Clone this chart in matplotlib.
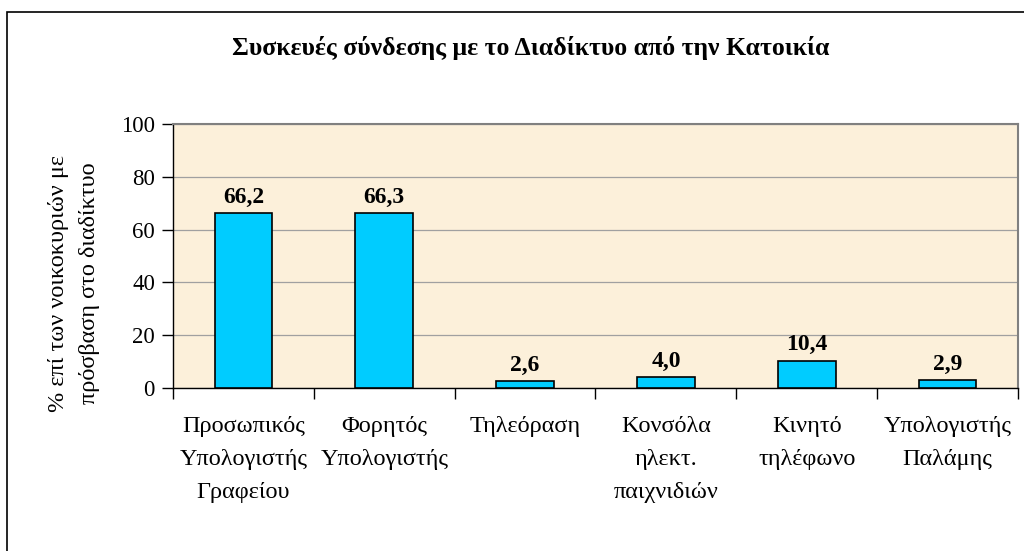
import numpy as np
import matplotlib.pyplot as plt
from matplotlib.patches import Rectangle

plt.rcParams['font.family'] = ['Liberation Serif', 'DejaVu Serif']

# data
categories = ['Προσωπικός\nΥπολογιστής\nΓραφείου', 'Φορητός\nΥπολογιστής',
              'Τηλεόραση', 'Κονσόλα\nηλεκτ.\nπαιχνιδιών', 'Κινητό\nτηλέφωνο',
              'Υπολογιστής\nΠαλάμης']
values = [66.2, 66.3, 2.6, 4.0, 10.4, 2.9]
labels = ['66,2', '66,3', '2,6', '4,0', '10,4', '2,9']
yticks = [0, 20, 40, 60, 80, 100]

fig = plt.figure(figsize=(10.24, 5.51), dpi=100)
ax = fig.add_axes([173/1024, 1-388/551, 845/1024, 264/551])

# outer chart border
fig.patches.append(Rectangle((7/1024, -0.05), 1.1, 1-12/551+0.05, transform=fig.transFigure,
                             fill=False, edgecolor='black', linewidth=1.2))

x = np.arange(len(categories))
ax.set_facecolor('#fcf0da')
ax.bar(x, values, width=0.41, color='#00ccff', edgecolor='black', linewidth=1.2, zorder=3)
for xi, v, lab in zip(x, values, labels):
    ax.text(xi, v + 2, lab, ha='center', va='bottom', fontsize=17, fontweight='bold', zorder=4)

ax.set_xlim(-0.5, len(categories) - 0.5)
ax.set_ylim(0, 100)
ax.set_yticks(yticks)
ax.set_yticklabels([str(t) for t in yticks], fontsize=16.5)
ax.yaxis.grid(True, color='#a0a0a0', linewidth=0.9, zorder=1)
ax.set_axisbelow(True)

ax.set_xticks(x)
ax.set_xticklabels(categories, fontsize=17.5, linespacing=1.75)
ax.tick_params(axis='x', length=0, pad=20)
ax.set_xticks(np.arange(-0.5, len(categories)), minor=True)
ax.tick_params(axis='x', which='minor', length=8, width=1, direction='out')
ax.tick_params(axis='y', length=8, width=1, direction='out', pad=5)

ax.spines['top'].set_color('#808080')
ax.spines['right'].set_color('#808080')
ax.spines['top'].set_linewidth(1.5)
ax.spines['right'].set_linewidth(1.5)
ax.spines['left'].set_linewidth(1.0)
ax.spines['bottom'].set_linewidth(1.0)

fig.text(0.072, 0.486, '% επί των νοικοκυριών με\nπρόσβαση στο διαδίκτυο', rotation=90,
         ha='center', va='center', multialignment='center', fontsize=17.5, linespacing=1.65)
fig.text(0.518, 1-48/551, 'Συσκευές σύνδεσης με το Διαδίκτυο από την Κατοικία',
         ha='center', va='center', fontsize=18.5, fontweight='bold')

plt.savefig('out.png', dpi=100)
